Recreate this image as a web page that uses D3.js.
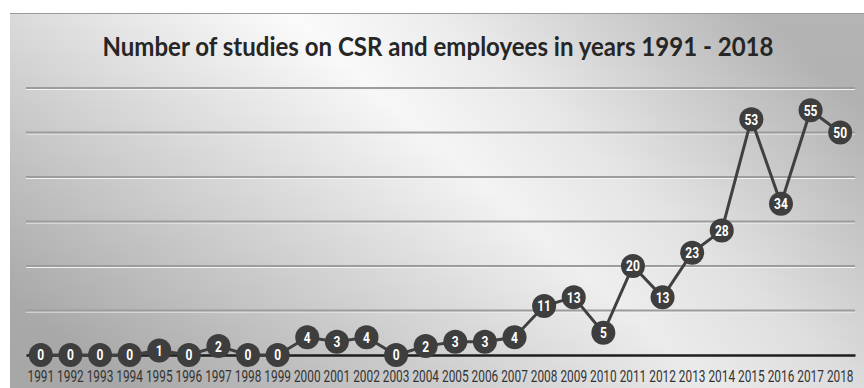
<!DOCTYPE html>
<html>
<head>
<meta charset="utf-8">
<script src="https://cdn.jsdelivr.net/npm/d3@7"></script>
<style>
  html, body { margin: 0; padding: 0; background: #fff; }
  svg { display: block; }
</style>
</head>
<body>
<svg id="chart" width="864" height="388"></svg>
<script>
// data
var years = ["1991","1992","1993","1994","1995","1996","1997","1998","1999","2000",
             "2001","2002","2003","2004","2005","2006","2007","2008","2009","2010",
             "2011","2012","2013","2014","2015","2016","2017","2018"];
var studies = [0,0,0,0,1,0,2,0,0,4,3,4,0,2,3,3,4,11,13,5,20,13,23,28,53,34,55,50];
var gridValues = [0,10,20,30,40,50,60];
var chartTitle = "Number of studies on CSR and employees in years 1991 - 2018";

var svg = d3.select("#chart");
var W = 864, H = 388;
var panel = {x: 10, y: 13, w: W - 10, h: H - 13};
var plot = {left: 26, right: 855, top: 88, bottom: 355};

// background: grey sides, light diagonal band in the middle
var defs = svg.append("defs");
var grad = defs.append("linearGradient")
  .attr("id", "bg")
  .attr("x1", 0).attr("y1", 0.75).attr("x2", 1).attr("y2", 0.25);
grad.append("stop").attr("offset", 0).attr("stop-color", "#b3b3b3");
grad.append("stop").attr("offset", 0.25).attr("stop-color", "#d4d4d4");
grad.append("stop").attr("offset", 0.56).attr("stop-color", "#fbfbfb");
grad.append("stop").attr("offset", 0.7).attr("stop-color", "#ececec");
grad.append("stop").attr("offset", 1).attr("stop-color", "#b4b4b4");
var shade = defs.append("linearGradient")
  .attr("id", "shade")
  .attr("x1", 0).attr("y1", 0).attr("x2", 0).attr("y2", 1);
shade.append("stop").attr("offset", 0).attr("stop-color", "#000").attr("stop-opacity", 0);
shade.append("stop").attr("offset", 1).attr("stop-color", "#000").attr("stop-opacity", 0.07);

svg.append("rect")
  .attr("x", panel.x).attr("y", panel.y)
  .attr("width", panel.w).attr("height", panel.h)
  .attr("fill", "url(#bg)");
svg.append("rect")
  .attr("x", panel.x).attr("y", panel.y)
  .attr("width", panel.w).attr("height", panel.h)
  .attr("fill", "url(#shade)");
svg.append("line")
  .attr("x1", panel.x).attr("x2", W)
  .attr("y1", panel.y + 0.5).attr("y2", panel.y + 0.5)
  .attr("stroke", "#9a9a9a").attr("stroke-width", 1);

var x = d3.scaleBand().domain(years).range([plot.left, plot.right]);
var y = d3.scaleLinear().domain([0, 60]).range([plot.bottom, plot.top]);

// title
svg.append("text")
  .attr("x", 438).attr("y", 56)
  .attr("text-anchor", "middle")
  .attr("textLength", 671)
  .attr("lengthAdjust", "spacingAndGlyphs")
  .style("font-family", "Lato, 'Open Sans', sans-serif")
  .style("font-size", "26px")
  .style("font-weight", "700")
  .attr("fill", "#262626")
  .text(chartTitle);

// gridlines
var grid = svg.append("g").attr("class", "grid");
grid.selectAll("line.shade")
  .data(gridValues.filter(function(d){ return d > 0; }))
  .enter().append("line")
  .attr("class", "shade")
  .attr("x1", plot.left).attr("x2", plot.right)
  .attr("y1", function(d){ return y(d) + 1.5; })
  .attr("y2", function(d){ return y(d) + 1.5; })
  .attr("stroke", "#f4f4f4").attr("stroke-width", 1);
grid.selectAll("line.main")
  .data(gridValues.filter(function(d){ return d > 0; }))
  .enter().append("line")
  .attr("class", "main")
  .attr("x1", plot.left).attr("x2", plot.right)
  .attr("y1", function(d){ return y(d); })
  .attr("y2", function(d){ return y(d); })
  .attr("stroke", "#9c9c9c").attr("stroke-width", 2);

// x axis (labels squeezed horizontally, like a condensed face)
var xAxis = d3.axisBottom(x).tickSize(0).tickPadding(16);
var gX = svg.append("g")
  .attr("transform", "translate(0," + y(0) + ")")
  .call(xAxis);
gX.select(".domain").attr("stroke", "#1e1e1e").attr("stroke-width", 2.5);
gX.selectAll("text")
  .attr("transform", "scale(0.74,1)")
  .style("font-family", "Roboto, 'Open Sans', sans-serif")
  .style("font-size", "16px")
  .attr("fill", "#333");

// line
var line = d3.line()
  .x(function(d, i){ return x(years[i]) + x.bandwidth() / 2; })
  .y(function(d){ return y(d); });
svg.append("path")
  .datum(studies)
  .attr("d", line)
  .attr("fill", "none")
  .attr("stroke", "#404040")
  .attr("stroke-width", 3);

// markers and labels
var pts = svg.append("g").selectAll("g")
  .data(studies)
  .enter().append("g")
  .attr("transform", function(d, i){
    return "translate(" + (x(years[i]) + x.bandwidth() / 2) + "," + y(d) + ")";
  });
pts.append("circle")
  .attr("r", 12)
  .attr("fill", "#3e3e3e");
pts.append("text")
  .attr("text-anchor", "middle")
  .attr("dy", "0.36em")
  .attr("transform", "scale(0.8,1)")
  .style("font-family", "Roboto, 'Open Sans', sans-serif")
  .style("font-size", "15px")
  .style("font-weight", "700")
  .attr("fill", "#ffffff")
  .text(function(d){ return d; });
</script>
</body>
</html>
